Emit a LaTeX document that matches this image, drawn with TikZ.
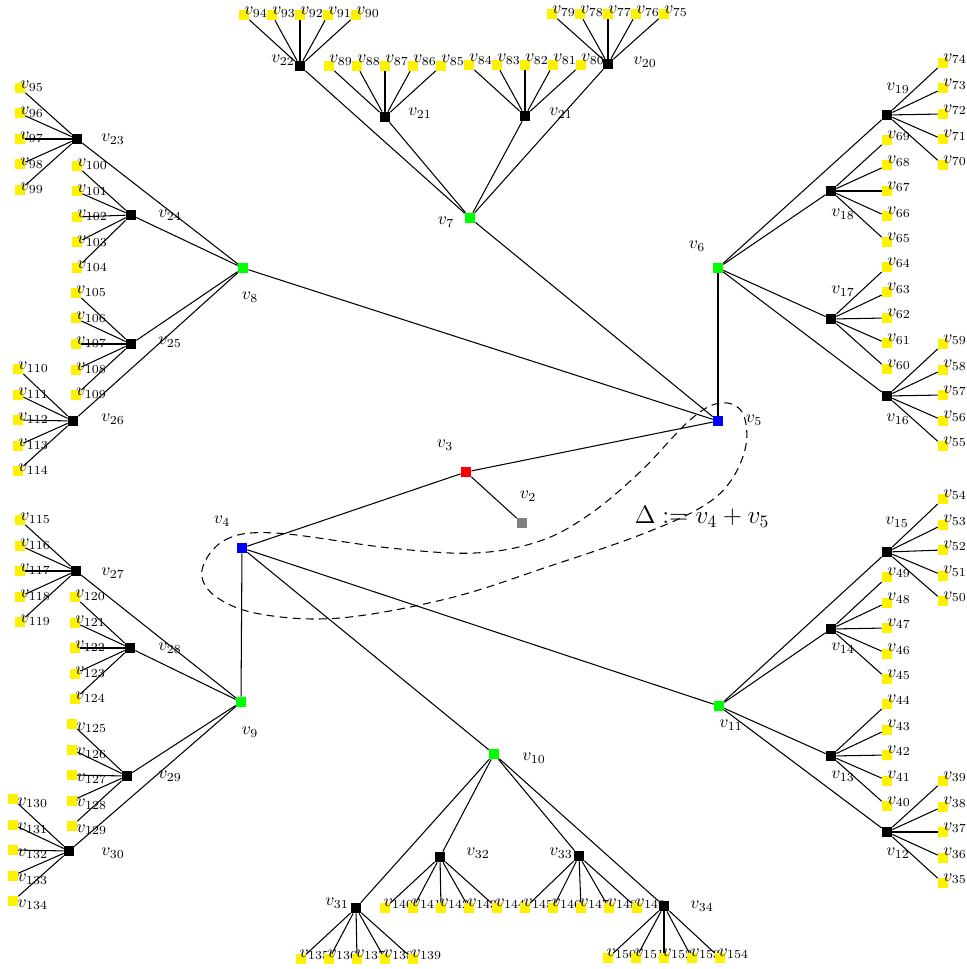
\documentclass[tikz,border=0pt]{standalone}

\tikzset{
  sq/.style={rectangle, minimum size=5.7pt, inner sep=0pt},
  leaf/.style={sq, fill=yellow},
  hub/.style={sq, fill=black},
  mid/.style={sq, fill=green},
  root/.style={sq, fill=blue},
  leaflbl/.style={anchor=base west, inner sep=0pt},
  edge/.style={line width=0.6pt},
}

% [label shift]{hub}{x0}{y0}{dx}{dy}{leaves}
\newcommand{\fan}[7][]{%
  \foreach \k [count=\i from 0] in {#7} {
    \node[leaf] (v\k) at ({#3+\i*#5},{#4+\i*#6}) {};
    \node[leaflbl,#1] (l\k) at (v\k.center) {$v_{\k}$};
    \draw[edge] (#2) -- (v\k);
  }}

\begin{document}
\begin{tikzpicture}[x=0.57pt, y=-0.57pt]
\useasboundingbox (0,0) rectangle (966,969);

% centre
\node[root] (v5) at (718,421) {};
\node[root] (v4) at (242,548) {};
\node[sq, fill=red] (v3) at (466,472) {};
\node[sq, fill=gray] (v2) at (522,523) {};
\node[mid] (v6) at (718,268) {};
\node[mid] (v7) at (470,218) {};
\node[mid] (v8) at (243,268) {};
\node[mid] (v9) at (241,702) {};
\node[mid] (v10) at (494,754) {};
\node[mid] (v11) at (719,706) {};

\draw[edge] (v5) -- (v3) -- (v4);
\draw[edge] (v3) -- (v2);
\foreach \m in {v6,v7,v8} \draw[edge] (v5) -- (\m);
\foreach \m in {v9,v10,v11} \draw[edge] (v4) -- (\m);

% hubs
\node[hub] (v22) at (300,66) {};
\node[hub] (v21a) at (385,117) {};
\node[hub] (v21b) at (525,116) {};
\node[hub] (v20) at (608,64) {};
\node[hub] (v19) at (887,115) {};
\node[hub] (v18) at (831,191) {};
\node[hub] (v17) at (831,319) {};
\node[hub] (v16) at (887,396) {};
\node[hub] (v15) at (887,552) {};
\node[hub] (v14) at (831,629) {};
\node[hub] (v13) at (831,756) {};
\node[hub] (v12) at (887,832) {};
\node[hub] (v23) at (77,139) {};
\node[hub] (v24) at (131,215) {};
\node[hub] (v25) at (131,344) {};
\node[hub] (v26) at (73,421) {};
\node[hub] (v27) at (76,571) {};
\node[hub] (v28) at (130,648) {};
\node[hub] (v29) at (127,776) {};
\node[hub] (v30) at (69,851) {};
\node[hub] (v31) at (356,908) {};
\node[hub] (v32) at (440,857) {};
\node[hub] (v33) at (579,856) {};
\node[hub] (v34) at (664,906) {};

\foreach \m in {v22,v21a,v21b,v20} \draw[edge] (v7) -- (\m);
\foreach \m in {v19,v18,v17,v16} \draw[edge] (v6) -- (\m);
\foreach \m in {v15,v14,v13,v12} \draw[edge] (v11) -- (\m);
\foreach \m in {v23,v24,v25,v26} \draw[edge] (v8) -- (\m);
\foreach \m in {v27,v28,v29,v30} \draw[edge] (v9) -- (\m);
\foreach \m in {v31,v32,v33,v34} \draw[edge] (v10) -- (\m);

% leaves, top
\fan[yshift=0.3pt]{v22}{244}{15}{28}{0}{94,93,92,91,90}
\fan[yshift=2pt]{v21a}{329}{66}{28}{0}{89,88,87,86,85}
\fan[yshift=2pt]{v21b}{469}{65}{28}{0}{84,83,82,81,80}
\fan[yshift=0pt]{v20}{552}{14}{28}{0}{79,78,77,76,75}
% right
\fan[yshift=1pt]{v19}{943}{63}{0}{25.5}{74,73,72,71,70}
\fan[yshift=1pt]{v18}{887}{140}{0}{25.5}{69,68,67,66,65}
\fan[yshift=1pt]{v17}{887}{267}{0}{25.5}{64,63,62,61,60}
\fan[yshift=1pt]{v16}{943}{344}{0}{25.5}{59,58,57,56,55}
\fan[yshift=1pt]{v15}{943}{499}{0}{25.5}{54,53,52,51,50}
\fan[yshift=1pt]{v14}{887}{577}{0}{25.5}{49,48,47,46,45}
\fan[yshift=1pt]{v13}{887}{704}{0}{25.5}{44,43,42,41,40}
\fan[yshift=1pt]{v12}{943}{781}{0}{25.5}{39,38,37,36,35}
% left
\fan[yshift=-0.5pt]{v23}{20}{88}{0}{25.5}{95,96,97,98,99}
\fan[yshift=-0.5pt]{v24}{77}{166}{0}{25.5}{100,101,102,103,104}
\fan[yshift=-0.5pt]{v25}{76}{293}{0}{25.5}{105,106,107,108,109}
\fan[yshift=-0.5pt]{v26}{18}{369}{0}{25.5}{110,111,112,113,114}
\fan[yshift=-0.5pt]{v27}{20}{520}{0}{25.5}{115,116,117,118,119}
\fan[yshift=-0.5pt]{v28}{75}{597}{0}{25.5}{120,121,122,123,124}
\fan[yshift=-3.5pt,xshift=2.5pt]{v29}{72}{724}{0}{25.5}{125,126,127,128,129}
\fan[yshift=-3.5pt,xshift=2.5pt]{v30}{13}{799}{0}{25.5}{130,131,132,133,134}
% bottom
\fan[yshift=1pt,xshift=-1pt]{v31}{301}{959}{28}{0}{135,136,137,138,139}
\fan[yshift=1pt,xshift=-1pt]{v32}{385}{908}{28}{0}{140,141,142,143,144}
\fan[yshift=1pt,xshift=-1pt]{v33}{525}{908}{28}{0}{145,146,147,148,149}
\fan[yshift=1pt,xshift=-1pt]{v34}{608}{958}{28}{0}{150,151,152,153,154}

% labels
\node (l2) at (528,496) {$v_2$};
\node (l3) at (445,445) {$v_3$};
\node (l4) at (222,521) {$v_4$};
\node (l5) at (754,420) {$v_5$};
\node (l6) at (697,246) {$v_6$};
\node (l7) at (446,222) {$v_7$};
\node (l8) at (250,297) {$v_8$};
\node (l9) at (250,732) {$v_9$};
\node (l10) at (534,758) {$v_{10}$};
\node (l11) at (731,725) {$v_{11}$};
\node (l12) at (898,853) {$v_{12}$};
\node (l13) at (843,776) {$v_{13}$};
\node (l14) at (843,648) {$v_{14}$};
\node (l15) at (897,522) {$v_{15}$};
\node (l16) at (898,419) {$v_{16}$};
\node (l17) at (843,291) {$v_{17}$};
\node (l18) at (843,214) {$v_{18}$};
\node (l19) at (898,88) {$v_{19}$};
\node (l20) at (645,62) {$v_{20}$};
\node (l21a) at (420,113) {$v_{21}$};
\node (l21b) at (561,113) {$v_{21}$};
\node (l22) at (283,60) {$v_{22}$};
\node (l23) at (113,139) {$v_{23}$};
\node (l24) at (170,215) {$v_{24}$};
\node (l25) at (170,342) {$v_{25}$};
\node (l26) at (113,419) {$v_{26}$};
\node (l27) at (113,573) {$v_{27}$};
\node (l28) at (170,648) {$v_{28}$};
\node (l29) at (170,776) {$v_{29}$};
\node (l30) at (113,853) {$v_{30}$};
\node (l31) at (337,903) {$v_{31}$};
\node (l32) at (478,853) {$v_{32}$};
\node (l33) at (561,853) {$v_{33}$};
\node (l34) at (702,906) {$v_{34}$};

% contraction of v4 and v5
\draw[dash pattern=on 4.5pt off 3pt, line width=0.6pt] plot[smooth cycle, tension=0.6] coordinates {
  (202,570) (225,540) (275,533) (390,548) (475,553) (540,541) (590,514)
  (640,472) (690,420) (720,403) (742,412) (746,445) (730,482) (700,508)
  (640,535) (550,566) (450,598) (340,618) (260,614) (215,596)};
\node[font=\Large] (delta) at (702,517) {$\Delta := v_4 + v_5$};
\end{tikzpicture}
\end{document}
